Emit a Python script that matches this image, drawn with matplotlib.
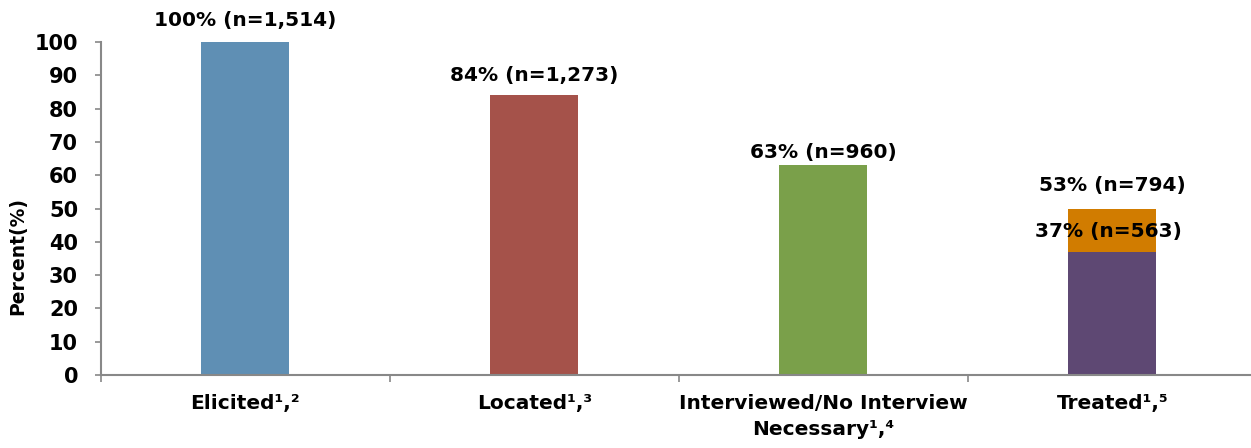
import matplotlib.pyplot as plt

plt.rcParams['font.family'] = ['DejaVu Sans']
plt.rcParams['font.weight'] = 'bold'

categories = ["Elicited¹,²", "Located¹,³", "Interviewed/No Interview\nNecessary¹,⁴", "Treated¹,⁵"]
values = [100, 84, 63, 37]
treated_extra = 13  # orange segment stacked on top of the treated bar
labels = ["100% (n=1,514)", "84% (n=1,273)", "63% (n=960)", "37% (n=563)"]
extra_label = "53% (n=794)"
colors = ["#5F8FB4", "#A5524A", "#7AA04A", "#5E4873"]
extra_color = "#D17C00"

fig = plt.figure(figsize=(12.51, 4.48), dpi=100)
ax = fig.add_axes([0.0807, 0.1629, 0.9193, 0.7433])

x = list(range(len(categories)))
ax.bar(x, values, width=0.305, color=colors)
ax.bar(x[3], treated_extra, bottom=values[3], width=0.305, color=extra_color)

# value labels (centre heights above the bar tops)
offsets = [6.6, 5.8, 3.8]
for i in range(3):
    ax.text(x[i], values[i] + offsets[i], labels[i], ha="center", va="center",
            fontsize=14.5, fontweight="bold", clip_on=False)
ax.text(x[3], values[3] + treated_extra + 6.9, extra_label, ha="center", va="center",
        fontsize=14.5, fontweight="bold")
ax.text(x[3] - 0.014, values[3] + 6.1, labels[3], ha="center", va="center",
        fontsize=14.5, fontweight="bold")

ax.set_ylim(0, 100)
ax.set_xlim(-0.5, 3.48)
ax.set_yticks(range(0, 101, 10))
ax.tick_params(axis="y", labelsize=15, length=4.5, width=1.2, color="#888888", pad=12)

ax.set_xticks(x)
ax.set_xticklabels(categories, fontsize=14.5, fontweight="bold", linespacing=1.45)
ax.set_xticks([-0.5, 0.5, 1.5, 2.5], minor=True)
ax.tick_params(axis="x", which="major", length=0, pad=14)
ax.tick_params(axis="x", which="minor", length=5, width=1.2, color="#888888")

for s in ["top", "right"]:
    ax.spines[s].set_visible(False)
for s in ["left", "bottom"]:
    ax.spines[s].set_color("#888888")
    ax.spines[s].set_linewidth(1.5)

ax.set_ylabel("Percent(%)", fontsize=13.5, fontweight="bold")
ax.yaxis.set_label_coords(-0.064, 0.356)

fig.savefig("out.png", dpi=100)
